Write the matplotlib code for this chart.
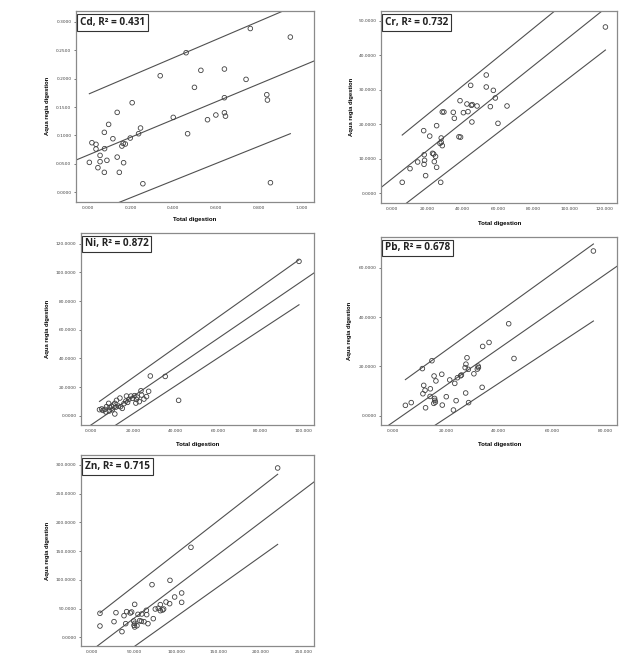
import matplotlib
matplotlib.use("Agg")
import matplotlib.pyplot as plt
import matplotlib.ticker as mticker
import numpy as np

# ---------------- data ----------------
cd_x = [0.760, 0.947, 0.460, 0.529, 0.639, 0.339, 0.740, 0.499, 0.837, 0.840, 0.639,
        0.208, 0.138, 0.639, 0.644, 0.599, 0.560, 0.400, 0.098, 0.247, 0.078, 0.467,
        0.238, 0.118, 0.199, 0.020, 0.039, 0.176, 0.166, 0.160, 0.039, 0.079, 0.058,
        0.138, 0.090, 0.058, 0.008, 0.168, 0.048, 0.078, 0.148, 0.258, 0.854]
cd_y = [0.288, 0.273, 0.2455, 0.2145, 0.2168, 0.205, 0.1986, 0.1846, 0.1717, 0.1623, 0.1664,
        0.1576, 0.1406, 0.140, 0.134, 0.136, 0.1277, 0.1318, 0.1195, 0.1131, 0.1055, 0.1031,
        0.1031, 0.0943, 0.0955, 0.0873, 0.0844, 0.085, 0.086, 0.0814, 0.0762, 0.0768, 0.065,
        0.062, 0.0563, 0.054, 0.0527, 0.0521, 0.0434, 0.0352, 0.0352, 0.0152, 0.017]

cr_x = [120.4, 53.2, 44.4, 53.2, 57.2, 58.3, 38.4, 42.3, 44.8, 45.3, 48.0, 55.5, 64.9,
        28.4, 29.3, 34.6, 40.3, 42.9, 35.2, 45.1, 59.8, 25.2, 17.9, 21.3, 37.8, 38.7,
        27.8, 27.8, 27.1, 28.4, 22.9, 23.5, 18.2, 24.6, 14.5, 18.4, 23.9, 18.1, 10.2,
        25.2, 19.0, 5.8, 27.5]
cr_y = [48.26, 34.33, 31.33, 30.85, 29.88, 27.66, 26.88, 25.92, 25.53, 25.73, 25.34, 25.15,
        25.34, 23.6, 23.6, 23.5, 23.4, 23.7, 21.76, 20.7, 20.3, 19.63, 18.18, 16.6, 16.4,
        16.3, 16.05, 14.8, 14.5, 13.83, 11.6, 11.4, 11.2, 10.7, 9.09, 9.57, 9.19, 8.41,
        7.16, 7.54, 5.13, 3.19, 3.19]

ni_x = [98.0, 28.1, 35.1, 41.4, 27.3, 23.7, 16.9, 19.0, 20.7, 21.9, 21.6, 24.0, 25.1,
        18.0, 16.6, 17.4, 21.3, 13.8, 12.2, 11.4, 10.7, 8.5, 11.9, 9.1, 7.5, 6.7, 5.2,
        4.2, 5.8, 7.2, 8.8, 10.2, 11.4, 14.9, 14.1, 22.9, 26.3, 19.7, 15.7, 13.2, 9.9]
ni_y = [107.7, 27.7, 27.4, 10.7, 17.0, 17.4, 13.7, 13.7, 14.0, 13.0, 11.4, 14.4, 11.6,
        11.4, 10.2, 9.3, 8.8, 12.3, 10.7, 8.6, 7.4, 8.6, 6.0, 5.8, 6.3, 4.4, 4.7, 4.2,
        3.7, 2.6, 3.3, 4.2, 1.2, 5.1, 6.3, 9.8, 13.3, 12.1, 8.4, 6.7, 6.5]

pb_x = [75.6, 43.7, 45.7, 36.3, 33.9, 28.0, 27.6, 27.3, 28.5, 32.2, 32.3, 31.9, 30.6,
        25.9, 25.6, 24.4, 21.5, 23.4, 14.8, 11.2, 15.6, 18.5, 16.3, 11.7, 12.2, 14.2,
        11.4, 14.1, 20.2, 27.5, 33.7, 15.8, 15.9, 15.5, 16.1, 18.7, 23.9, 28.6, 7.0,
        4.8, 12.4, 22.9]
pb_y = [66.8, 37.3, 23.2, 29.7, 28.1, 23.5, 20.9, 19.5, 18.8, 20.1, 19.5, 18.9, 17.0,
        16.5, 16.2, 15.4, 14.5, 13.1, 22.3, 19.1, 16.1, 16.8, 14.1, 12.3, 10.3, 10.9,
        8.9, 7.8, 7.7, 9.2, 11.5, 7.0, 6.2, 5.0, 5.5, 4.3, 6.1, 5.3, 5.3, 4.2, 3.2, 2.3]

zn_x = [219.7, 117.3, 92.5, 71.3, 106.3, 98.0, 106.3, 87.8, 92.1, 81.1, 50.8, 75.2, 78.7,
        85.0, 83.9, 81.1, 64.6, 47.2, 41.3, 45.7, 28.7, 9.8, 38.2, 54.7, 59.1, 65.0,
        72.8, 26.4, 40.2, 50.8, 56.7, 58.7, 61.8, 66.5, 50.0, 53.5, 50.8, 9.8, 35.8, 49.6]
zn_y = [294.8, 156.7, 99.2, 91.7, 77.2, 70.2, 60.9, 61.5, 58.6, 56.9, 57.4, 49.3, 50.5,
        49.3, 47.6, 46.4, 47.0, 44.1, 44.7, 42.4, 42.9, 41.8, 37.7, 40.0, 40.6, 39.5,
        32.5, 27.3, 23.8, 24.4, 29.0, 27.9, 27.3, 23.8, 20.9, 20.3, 18.0, 19.7, 9.9, 28.4]

# fitted line and prediction interval lines (slope, intercept)
cd_lines = {"fit": (0.1566, 0.0653), "upper": (0.1607, 0.1721), "lower": (0.151, -0.0398)}
cr_lines = {"fit": (0.411, 4.21), "upper": (0.4185, 14.48), "lower": (0.396, -6.1)}
ni_lines = {"fit": (1.012, -6.7), "upper": (1.054, 5.52), "lower": (0.9745, -18.1)}
pb_lines = {"fit": (0.750, -2.75), "upper": (0.777, 10.9), "lower": (0.709, -15.2)}
zn_lines = {"fit": (1.116, -22.6), "upper": (1.149, 31.4), "lower": (1.050, -68.9)}

labels = ["Cd, R\u00b2 = 0.431", "Cr, R\u00b2 = 0.732", "Ni, R\u00b2 = 0.872",
          "Pb, R\u00b2 = 0.678", "Zn, R\u00b2 = 0.715"]

cd_xticks = [0.0, 0.2, 0.4, 0.6, 0.8, 1.0]
cd_yticks = [0.0, 0.05, 0.10, 0.15, 0.20, 0.25, 0.30]
cr_xticks = [0, 20, 40, 60, 80, 100, 120]
cr_yticks = [0, 10, 20, 30, 40, 50]
ni_xticks = [0, 20, 40, 60, 80, 100]
ni_yticks = [0, 20, 40, 60, 80, 100, 120]
pb_xticks = [0, 20, 40, 60, 80]
pb_yticks = [0, 20, 40, 60]
zn_xticks = [0, 50, 100, 150, 200, 250]
zn_yticks = [0, 50, 100, 150, 200, 250, 300]

# ---------------- figure ----------------
W, H = 636, 657
fig = plt.figure(figsize=(W / 100, H / 100), dpi=100)
fig.patch.set_facecolor("white")

def px_axes(l, t, r, b):
    return fig.add_axes([l / W, 1 - b / H, (r - l) / W, (b - t) / H])

frame_c = "#8a8a8a"
line_c = "#505050"
pt_c = "#404040"

def panel(box, x, y, lines, label, xticks, yticks, xlim, ylim, ylab_px, xlab_dy):
    l, t, r, b = box
    ax = px_axes(l, t, r, b)
    ax.set_xlim(*xlim)
    ax.set_ylim(*ylim)
    x = np.asarray(x)
    y = np.asarray(y)
    ax.scatter(x, y, s=11, facecolors="none", edgecolors=pt_c, linewidths=0.6, zorder=3)
    xs_full = np.array(xlim)
    m, c = lines["fit"]
    ax.plot(xs_full, m * xs_full + c, color=line_c, lw=0.8, zorder=2)
    xs_rng = np.array([x.min(), x.max()])
    for key in ("upper", "lower"):
        m, c = lines[key]
        ax.plot(xs_rng, m * xs_rng + c, color=line_c, lw=0.8, zorder=2)
    for s in ax.spines.values():
        s.set_color(frame_c)
        s.set_linewidth(0.9)
    ax.set_xticks(xticks)
    ax.set_yticks(yticks)
    ax.xaxis.set_major_formatter(mticker.FormatStrFormatter("%.3f"))
    ax.yaxis.set_major_formatter(mticker.FormatStrFormatter("%.4f"))
    ax.tick_params(axis="both", labelsize=3.2, colors="#444444", length=1.8,
                   width=0.5, pad=1.5)
    ax.tick_params(axis="x", length=0, pad=3)
    ax.set_ylabel("Aqua regia digestion", fontsize=4.2, fontweight="bold",
                  family="Liberation Sans")
    ax.yaxis.set_label_coords((ylab_px - l) / (r - l), 0.5)
    if xlab_dy is not None:
        ax.set_xlabel("Total digestion", fontsize=4.4, fontweight="bold",
                      family="Liberation Sans")
        ax.xaxis.set_label_coords(0.5, -xlab_dy / (b - t))
    ax.text(0.016, 0.97, label, transform=ax.transAxes, ha="left", va="top",
            fontsize=7.2, fontweight="bold", family="Open Sans", color="#222222",
            bbox=dict(boxstyle="square,pad=0.28", facecolor="white",
                      edgecolor="#333333", linewidth=0.8), zorder=5)
    return ax

panel((76, 11, 314, 201.7), cd_x, cd_y, cd_lines, labels[0], cd_xticks, cd_yticks,
      (-0.0544, 1.0575), (-0.0164, 0.3188), 50, 15.6)
panel((381.3, 11, 617.3, 203.3), cr_x, cr_y, cr_lines, labels[1], cr_xticks, cr_yticks,
      (-6.0, 127.1), (-2.9, 52.9), 354, 17.4)
panel((81, 232.7, 314.3, 425), ni_x, ni_y, ni_lines, labels[2], ni_xticks, ni_yticks,
      (-4.5, 105.2), (-6.5, 127.7), 50, 17)
panel((381.3, 236.7, 617.3, 425), pb_x, pb_y, pb_lines, labels[3], pb_xticks, pb_yticks,
      (-4.27, 84.6), (-3.78, 72.6), 352.3, 17)
panel((81, 455, 314.3, 646), zn_x, zn_y, zn_lines, labels[4], zn_xticks, zn_yticks,
      (-12.6, 263), (-15.1, 317.4), 50, None)

fig.savefig("out.png", dpi=100, facecolor="white")
